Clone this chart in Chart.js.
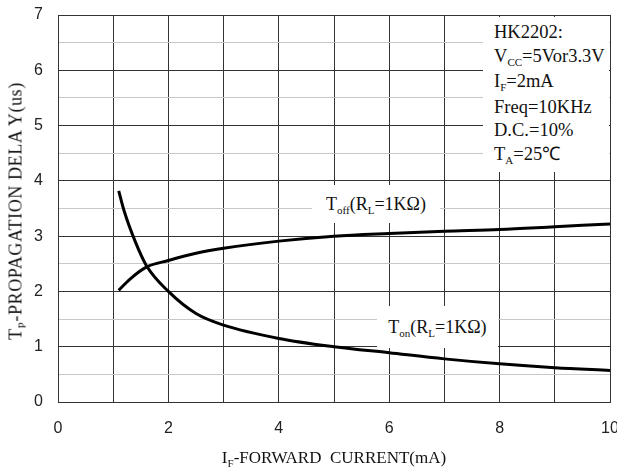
<!DOCTYPE html>
<html>
<head>
<meta charset="utf-8">
<script src="https://cdn.jsdelivr.net/npm/chart.js@4"></script>
<style>
  body { margin: 0; background: #fff; }
  #wrap { position: relative; width: 617px; height: 469px; }
  .lbl { position: absolute; font-family: "Liberation Serif", serif; color: #111; white-space: nowrap; }
  .box { background: #fff; }
  .s { font-size: 11px; position: relative; top: 4px; }
</style>
</head>
<body>
<div id="wrap">
  <canvas id="chart" width="617" height="469"></canvas>

  <div class="lbl box" style="left:483px;top:17px;width:126px;height:155px;font-size:18.5px;line-height:23.5px;padding-left:11px;box-sizing:border-box;padding-top:4px;">
    HK2202:<br>
    V<span class="s">CC</span>=5Vor3.3V<br>
    I<span class="s">F</span>=2mA<br>
    Freq=10KHz<br>
    D.C.=10%<br>
    T<span class="s">A</span>=25℃
  </div>

  <div class="lbl box" style="left:312px;top:185px;width:128px;height:38px;font-size:18px;line-height:38px;text-align:center;">
    T<span class="s">off</span>(R<span class="s">L</span>=1KΩ)
  </div>

  <div class="lbl box" style="left:377px;top:306px;width:121px;height:42px;font-size:18px;line-height:42px;text-align:center;">
    T<span class="s">on</span>(R<span class="s">L</span>=1KΩ)
  </div>

  <div class="lbl" style="left:334px;top:458px;transform:translate(-50%,-50%);font-size:17px;">
    I<span class="s">F</span>-FORWARD&nbsp; CURRENT(mA)
  </div>

  <div class="lbl" style="left:16px;top:211px;transform:translate(-50%,-50%) rotate(-90deg);font-size:18px;letter-spacing:0.6px;">
    T<span class="s">P</span>-PROPAGATION DELA Y(us)
  </div>
</div>

<script>
// forward current (mA) and delays (us)
const offCurrent = [1.1, 1.3, 1.6, 2, 2.5, 3, 4, 5, 6, 7, 8, 9, 10];
const offDelay   = [2.02, 2.22, 2.44, 2.56, 2.69, 2.78, 2.91, 3.0, 3.05, 3.09, 3.12, 3.17, 3.22];

const onCurrent = [1.1, 1.2, 1.4, 1.6, 2, 2.5, 3, 4, 5, 6, 7, 8, 9, 10];
const onDelay   = [3.82, 3.45, 2.9, 2.47, 2.0, 1.6, 1.39, 1.15, 1.0, 0.89, 0.78, 0.69, 0.62, 0.57];

const xTicks = [0, 2, 4, 6, 8, 10];
const yTicks = [0, 1, 2, 3, 4, 5, 6, 7];

function toPoints(xs, ys) {
    return xs.map((x, i) => ({ x: x, y: ys[i] }));
}

function gridColor(ctx) {
    return Number.isInteger(ctx.tick.value) ? "#333" : "#c8c8c8";
}

const ctx = document.getElementById("chart");

new Chart(ctx, {
    type: "line",
    data: {
        datasets: [
            {
                label: "Toff",
                data: toPoints(offCurrent, offDelay),
                borderColor: "#000",
                borderWidth: 3,
                pointRadius: 0,
                cubicInterpolationMode: "monotone",
                fill: false,
            },
            {
                label: "Ton",
                data: toPoints(onCurrent, onDelay),
                borderColor: "#000",
                borderWidth: 3,
                pointRadius: 0,
                cubicInterpolationMode: "monotone",
                fill: false,
            },
        ],
    },
    options: {
        responsive: false,
        animation: false,
        layout: { padding: { top: 15, right: 7, left: 0, bottom: 0 } },
        plugins: {
            legend: { display: false },
            tooltip: { enabled: false },
        },
        scales: {
            x: {
                type: "linear",
                min: 0,
                max: 10,
                afterFit: (scale) => {
                    scale.height = 67;
                    scale.paddingLeft = 0;
                    scale.paddingRight = 0;
                },
                grid: { color: "#333", drawTicks: false },
                border: { color: "#333", width: 1 },
                ticks: {
                    stepSize: 1,
                    padding: 17,
                    color: "#222",
                    font: { family: "Liberation Sans", size: 16 },
                    maxRotation: 0,
                    autoSkip: false,
                    callback: (v) => xTicks.includes(v) ? String(v) : "",
                },
            },
            y: {
                min: 0,
                max: 7,
                afterFit: (scale) => {
                    scale.width = 58;
                    scale.paddingTop = 0;
                    scale.paddingBottom = 0;
                },
                grid: { color: gridColor, drawTicks: false },
                border: { color: "#333", width: 1 },
                ticks: {
                    stepSize: 0.5,
                    padding: 15,
                    color: "#222",
                    font: { family: "Liberation Sans", size: 16 },
                    autoSkip: false,
                    callback: (v) => yTicks.includes(v) ? String(v) : "",
                },
            },
        },
    },
});
</script>
</body>
</html>
